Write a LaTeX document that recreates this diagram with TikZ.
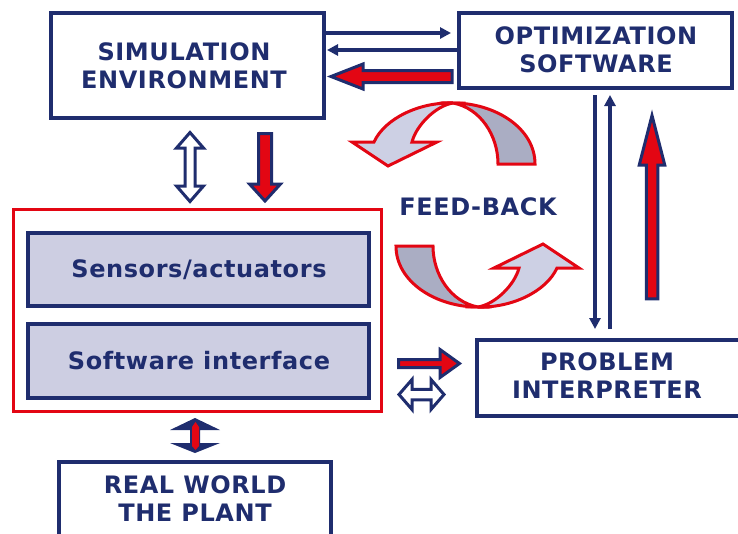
\documentclass[tikz,border=0pt]{standalone}
\usepackage{fontspec}
\setmainfont{DejaVu Sans}[LetterSpace=2.5]
\usetikzlibrary{arrows.meta,calc}
\definecolor{navy}{RGB}{31,45,110}
\definecolor{myred}{RGB}{227,6,19}
\definecolor{lav}{RGB}{205,206,226}
\definecolor{ribdark}{RGB}{170,173,195}
\definecolor{riblight}{RGB}{205,208,228}
\begin{document}
\begin{tikzpicture}[x=1pt,y=-1pt,
  box/.style={draw=navy, line width=4pt, fill=white, inner sep=0pt},
  lbox/.style={draw=navy, line width=4pt, fill=lav, inner sep=0pt},
  redframe/.style={draw=myred, line width=3.5pt, inner sep=0pt},
  txt/.style={text=navy, font=\fontsize{24}{28}\selectfont\bfseries, align=center, inner sep=0pt},
  thinarrow/.style={draw=navy, line width=3.2pt, -{Triangle[length=11pt,width=11pt]}},
  redarrow/.style={fill=myred, draw=navy, line width=3pt, line join=miter},
  hollowarrow/.style={fill=white, draw=navy, line width=3pt, line join=miter},
  ribbon/.style={draw=myred, line width=3pt, line join=miter}]
\useasboundingbox (0,0) rectangle (738,533);
\clip (0,0) rectangle (738,533);
% boxes
\node[box, minimum width=273pt, minimum height=105pt] (sim) at (187,65) {};
\node[txt] (simtxt) at (184,66) {SIMULATION\\ENVIRONMENT};
\node[box, minimum width=273pt, minimum height=75pt] (opt) at (595,50) {};
\node[txt] (opttxt) at (596,50) {OPTIMIZATION\\SOFTWARE};
\node[redframe, minimum width=368pt, minimum height=202pt] (frame) at (197.5,310.5) {};
\node[lbox, minimum width=341pt, minimum height=73pt] (sens) at (198,269) {};
\node[txt] (senstxt) at (199,270) {Sensors/actuators};
\node[lbox, minimum width=341pt, minimum height=74pt] (soft) at (198,360.5) {};
\node[txt] (softtxt) at (199,361) {Software interface};
\node[box, minimum width=272pt, minimum height=110pt, anchor=north] (real) at (194.5,459.5) {};
\node[txt] (realtxt) at (195,499) {REAL WORLD\\THE PLANT};
\node[box, minimum width=290pt, minimum height=76pt, anchor=north west] (prob) at (474.5,337.5) {};
\node[txt] (probtxt) at (607,376) {PROBLEM\\INTERPRETER};
\node[txt] (fb) at (478,207) {FEED-BACK};
% thin arrows
\coordinate (a1s) at (sim.east |- 0,33);
\coordinate (a1e) at (451,33);
\draw[thinarrow] (a1s) -- (a1e);
\coordinate (a2s) at (opt.west |- 0,50);
\coordinate (a2e) at (327,50);
\draw[thinarrow] (a2s) -- (a2e);
\coordinate (a3s) at (595,95);
\coordinate (a3e) at (595,329);
\draw[thinarrow] (a3s) -- (a3e);
\coordinate (a4s) at (610,329);
\coordinate (a4e) at (610,95);
\draw[thinarrow] (a4s) -- (a4e);
% block arrows
\draw[redarrow] (452,70.5) -- (363,70.5) -- (363,64) -- (331,76.5) -- (363,89) -- (363,82.5) -- (452,82.5) -- cycle;
\draw[redarrow] (258.5,133.5) -- (271.5,133.5) -- (271.5,184) -- (280.5,184) -- (265,201) -- (249.5,184) -- (258.5,184) -- cycle;
\draw[hollowarrow] (190,132.5) -- (203.5,148) -- (195,148) -- (195,186) -- (203.5,186) -- (190,201.5) -- (176.5,186) -- (185,186) -- (185,148) -- (176.5,148) -- cycle;
\fill[navy] (195,418) -- (220,430) -- (200,430) -- (200,443) -- (220,443) -- (195,453) -- (170,443) -- (190,443) -- (190,430) -- (170,430) -- cycle;
\fill[myred] (195.5,422) -- (199,427) -- (199,446) -- (195.5,450) -- (192,446) -- (192,427) -- cycle;
\draw[redarrow] (398.5,359.5) -- (440,359.5) -- (440,349.5) -- (459.5,363.5) -- (440,377.5) -- (440,367.5) -- (398.5,367.5) -- cycle;
\draw[hollowarrow] (399,394.5) -- (412,379.5) -- (412,389.25) -- (431,389.25) -- (431,379.5) -- (444,394.5) -- (431,409.5) -- (431,399.75) -- (412,399.75) -- (412,409.5) -- cycle;
\draw[redarrow] (646.25,298.75) -- (646.25,165) -- (639.25,165) -- (652,115.5) -- (664.75,165) -- (657.75,165) -- (657.75,298.75) -- cycle;
% feed-back ribbons
\foreach \ang in {0,180}{
\begin{scope}[rotate around={\ang:(465.5,205)}]
\filldraw[ribbon, fill=ribdark] (453,103) .. controls (495,103) and (535,128) .. (535,164) -- (498,164) .. controls (498,135) and (480,108) .. (453,103) -- cycle;
\filldraw[ribbon, fill=riblight] (453,103) .. controls (420,102) and (385,118) .. (374,142) -- (352,142) -- (388,166) -- (437,142) -- (412,142) .. controls (416,126) and (435,106) .. (453,103) -- cycle;
\end{scope}}
\end{tikzpicture}
\end{document}
